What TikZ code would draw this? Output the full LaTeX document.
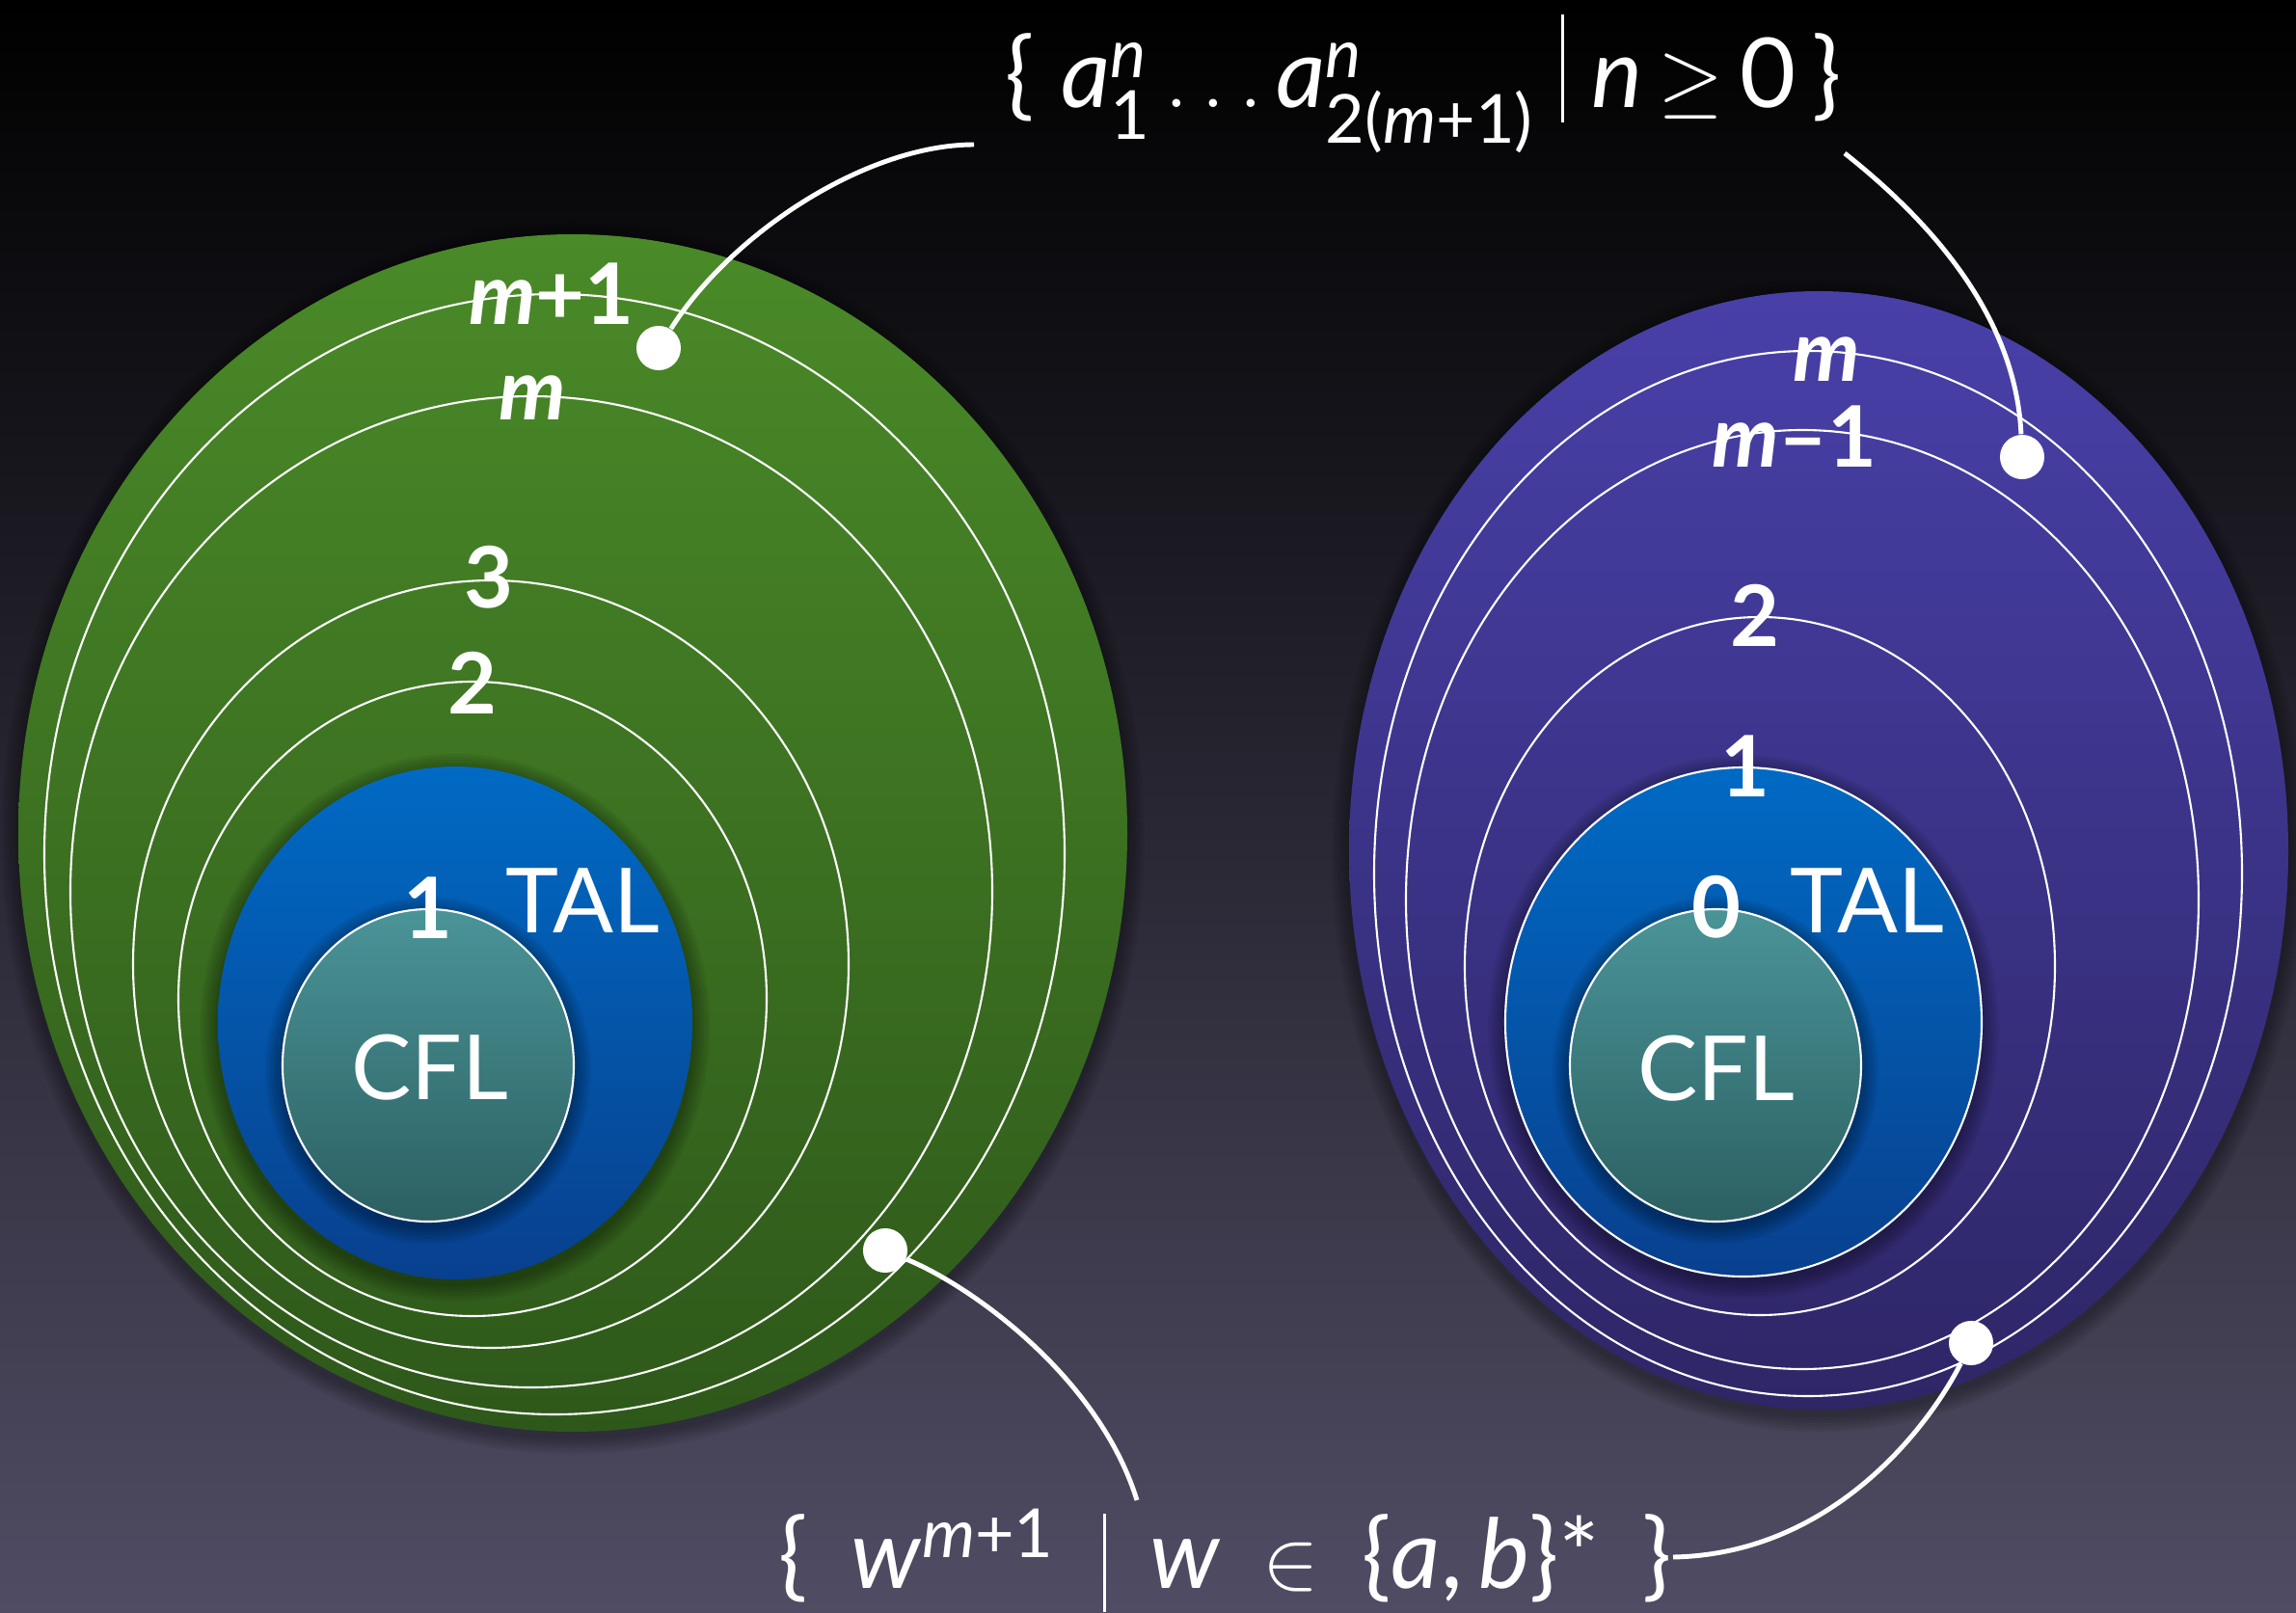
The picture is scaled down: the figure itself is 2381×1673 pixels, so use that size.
\documentclass[tikz,border=0pt]{standalone}
\usepackage{amsmath}
\usepackage{fontspec}
\setmainfont{Lato}
\usepackage{tikz}
\definecolor{bgmid}{RGB}{16, 16, 36}
\definecolor{bgbot}{RGB}{80, 76, 100}
\definecolor{greentop}{RGB}{74, 138, 40}
\definecolor{greenbot}{RGB}{46, 88, 26}
\definecolor{purpletop}{RGB}{72, 64, 168}
\definecolor{purplebot}{RGB}{46, 38, 102}
\definecolor{taltop}{RGB}{0, 106, 196}
\definecolor{talbot}{RGB}{8, 64, 142}
\definecolor{cfltop}{RGB}{74, 148, 152}
\definecolor{cflbot}{RGB}{44, 96, 98}
\newcommand{\halo}[4]{%
  \foreach \g in {3,6,...,18}
    \fill[black, opacity=0.06] (#1,#2+5) ellipse [x radius=#3+\g, y radius=#4+\g];}
\tikzset{
  ring/.style={draw=white, line width=0.6pt},
  link/.style={draw=white, line width=1.4pt},
  dot/.style={circle, fill=white, inner sep=0pt, minimum size=0.46cm},
  lvl/.style={font=\bfseries\fontsize{25}{25}\selectfont, text=white, inner sep=0pt},
  setname/.style={font=\fontsize{26.5}{27}\selectfont, text=white, inner sep=0pt},
  tal/.style={top color=taltop, bottom color=talbot},
  cfl/.style={top color=cfltop, bottom color=cflbot, draw=white, line width=0.6pt}
}

\begin{document}
\begin{tikzpicture}[x=0.01cm, y=-0.01cm]
        \useasboundingbox (0,0) rectangle (2381,1673);
        \shade[top color=black, middle color=bgmid, bottom color=bgbot] (0,0) rectangle (2381,1673);

        \halo{594}{864}{575}{621}
        \shade[top color=greentop, bottom color=greenbot] (594,864) ellipse [x radius=575, y radius=621];
        \foreach \cx/\cy/\rx/\ry in {575/886/529/581, 551/925/478/514, 509/1000/371/398, 490/1036/305/329}
            \draw[ring] (\cx,\cy) ellipse [x radius=\rx, y radius=\ry];
        \halo{472}{1061}{246}{266}
        \shade[tal] (472,1061) ellipse [x radius=246, y radius=266];
        \halo{444}{1105}{151}{162}
        \shadedraw[cfl] (444,1105) ellipse [x radius=151, y radius=162];

        \halo{1886}{882}{487}{580}
        \shade[top color=purpletop, bottom color=purplebot] (1886,882) ellipse [x radius=487, y radius=580];
        \foreach \cx/\cy/\rx/\ry in {1875/906/450/542, 1869/933/411/487, 1825/1002/306/362}
            \draw[ring] (\cx,\cy) ellipse [x radius=\rx, y radius=\ry];
        \halo{1808}{1060}{247}{264}
        \shadedraw[tal, ring] (1808,1060) ellipse [x radius=247, y radius=264];
        \halo{1779}{1105}{151}{162}
        \shadedraw[cfl] (1779,1105) ellipse [x radius=151, y radius=162];

        \foreach \x/\y/\txt [count=\i] in {
            572/305/{\textit{m}+1}, 552/413/{\textit{m}}, 507/599/{3}, 490/708/{2}, 444/942/{1},
            1894/373/{\textit{m}}, 1861/453/{\textit{m}--1}, 1820/638/{2}, 1810/795/{1}, 1780/941/{0}}
        {
            \node[lvl] (lvl\i) at (\x,\y) {\txt};
        }
        \node[setname, anchor=west] (talL) at (524,934) {TAL};
        \node[setname] (cflL) at (446,1107) {CFL};
        \node[setname, anchor=west] (talR) at (1856,934) {TAL};
        \node[setname] (cflR) at (1780,1108) {CFL};

        \node[text=white, font=\fontsize{28.5}{30}\selectfont, anchor=base] (topset) at (1476,112)
            {\{\;$\textit{a}_{\text{1}}^{\textit{n}}\ldots\textit{a}_{\text{2(\textit{m}+1)}}^{\textit{n}}$\;\rule[-0.15em]{0.03em}{1.12em}\;\textit{n}\,$\geq$\,0\,\}};
        \node[text=white, font=\fontsize{28.5}{30}\selectfont, anchor=base] (botset) at (1271,1647)
            {\{\;\,\textit{w}$^{\text{\textit{m}+1}}$\enspace\rule[-0.25em]{0.03em}{1.02em}\;\,\textit{w}\;\,$\in$\;\,\{\textit{a},\,\textit{b}\}*\;\,\}};

        \node[dot] (dotL1) at (683,361) {};
        \node[dot] (dotL2) at (918,1297) {};
        \node[dot] (dotR1) at (2097,474) {};
        \node[dot] (dotR2) at (2044,1393) {};
        \coordinate (topL) at (1010,150);
        \coordinate (topR) at (1913,159);
        \coordinate (botL) at (1179,1556);
        \coordinate (botR) at (1735,1615);

        \draw[link] (dotL1) .. controls (760,240) and (900,150) .. (topL);
        \draw[link] (topR) .. controls (1990,220) and (2090,320) .. (dotR1);
        \draw[link] (dotL2) .. controls (1010,1335) and (1140,1430) .. (botL);
        \draw[link] (dotR2) .. controls (2000,1480) and (1900,1612) .. (botR);
    \end{tikzpicture}
\end{document}
